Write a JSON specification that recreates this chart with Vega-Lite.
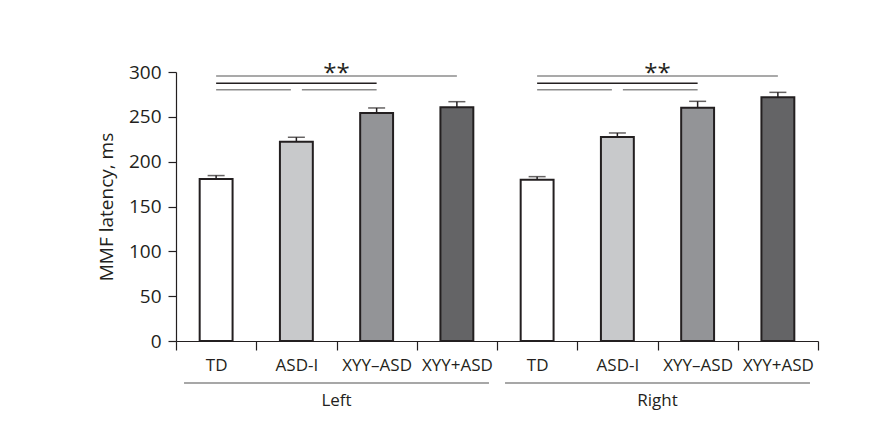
{
  "$schema": "https://vega.github.io/schema/vega-lite/v6.json",
  "width": 642,
  "height": 269,
  "autosize": "none",
  "padding": {"left": 176, "top": 72, "right": 75, "bottom": 107},
  "background": "white",
  "config": {
    "font": "Open Sans",
    "view": {"stroke": null},
    "axis": {"labelFont": "Open Sans", "titleFont": "Open Sans", "labelColor": "#231f20", "titleColor": "#231f20", "grid": false}
  },
  "datasets": {
    "bars": [
      {"side": "Left", "group": "TD", "key": "Left|TD", "mean": 180.7, "upper": 184.5},
      {"side": "Left", "group": "ASD-I", "key": "Left|ASD-I", "mean": 222.3, "upper": 227.2},
      {"side": "Left", "group": "XYY–ASD", "key": "Left|XYY–ASD", "mean": 254.3, "upper": 259.9},
      {"side": "Left", "group": "XYY+ASD", "key": "Left|XYY+ASD", "mean": 260.6, "upper": 266.9},
      {"side": "Right", "group": "TD", "key": "Right|TD", "mean": 179.7, "upper": 183.3},
      {"side": "Right", "group": "ASD-I", "key": "Right|ASD-I", "mean": 227.6, "upper": 232.0},
      {"side": "Right", "group": "XYY–ASD", "key": "Right|XYY–ASD", "mean": 260.2, "upper": 267.3},
      {"side": "Right", "group": "XYY+ASD", "key": "Right|XYY+ASD", "mean": 271.8, "upper": 277.3}
    ],
    "sig": [
      {"from": "Left|TD", "to": "Left|XYY+ASD", "level": 295.5, "tone": "gray", "gap": "none"},
      {"from": "Left|TD", "to": "Left|XYY–ASD", "level": 287.4, "tone": "black", "gap": "none"},
      {"from": "Left|TD", "to": "Left|ASD-I", "level": 280.3, "tone": "gray", "gap": "end"},
      {"from": "Left|ASD-I", "to": "Left|XYY–ASD", "level": 280.3, "tone": "gray", "gap": "start"},
      {"from": "Right|TD", "to": "Right|XYY+ASD", "level": 295.5, "tone": "gray", "gap": "none"},
      {"from": "Right|TD", "to": "Right|XYY–ASD", "level": 287.4, "tone": "black", "gap": "none"},
      {"from": "Right|TD", "to": "Right|ASD-I", "level": 280.3, "tone": "gray", "gap": "end"},
      {"from": "Right|ASD-I", "to": "Right|XYY–ASD", "level": 280.3, "tone": "gray", "gap": "start"}
    ],
    "stars": [{"at": "Left|ASD-I", "label": "**"}, {"at": "Right|ASD-I", "label": "**"}],
    "groups": [{"side": "Left"}, {"side": "Right"}]
  },
  "layer": [
    {
      "layer": [
        {
          "data": {"name": "bars"},
          "mark": {"type": "bar", "width": {"band": 0.41}, "stroke": "#231f20", "strokeWidth": 2},
          "encoding": {
            "x": {
              "field": "key", "type": "nominal", "title": null, "sort": null,
              "scale": {"domain": ["Left|TD", "Left|ASD-I", "Left|XYY–ASD", "Left|XYY+ASD", "Right|TD", "Right|ASD-I", "Right|XYY–ASD", "Right|XYY+ASD"], "paddingInner": 0, "paddingOuter": 0},
              "axis": {"tickBand": "extent", "labelExpr": "split(datum.label, '|')[1]", "labelAngle": 0, "labelFontSize": 17, "labelPadding": 7, "tickSize": 9, "tickColor": "#231f20", "domainColor": "#231f20", "tickWidth": 1.2, "domainWidth": 1.2}
            },
            "y": {
              "field": "mean", "type": "quantitative", "title": "MMF latency, ms",
              "scale": {"domain": [0, 300], "nice": false},
              "axis": {"title": "MMF latency, ms", "values": [0, 50, 100, 150, 200, 250, 300], "tickSize": 8, "labelFontSize": 19, "labelPadding": 7, "titleFontSize": 19, "titleFontWeight": "normal", "titlePadding": 12, "tickColor": "#231f20", "domainColor": "#231f20", "tickWidth": 1.2, "domainWidth": 1.2}
            },
            "fill": {
              "field": "group", "type": "nominal",
              "scale": {"domain": ["TD", "ASD-I", "XYY–ASD", "XYY+ASD"], "range": ["#ffffff", "#c8c9cb", "#939497", "#646466"]},
              "legend": null
            }
          }
        },
        {
          "data": {"name": "bars"},
          "mark": {"type": "rule", "color": "#231f20", "strokeWidth": 1.5},
          "encoding": {
            "x": {"field": "key", "type": "nominal", "title": null},
            "y": {"field": "mean", "type": "quantitative", "title": "MMF latency, ms"},
            "y2": {"field": "upper", "title": "MMF latency, ms"}
          }
        },
        {
          "data": {"name": "bars"},
          "mark": {"type": "tick", "orient": "horizontal", "size": 17, "thickness": 1.5, "color": "#231f20"},
          "encoding": {
            "x": {"field": "key", "type": "nominal", "title": null},
            "y": {"field": "upper", "type": "quantitative", "title": "MMF latency, ms"}
          }
        },
        {
          "data": {"name": "sig"},
          "transform": [{"filter": "datum.gap === 'none'"}],
          "mark": {"type": "rule", "strokeWidth": 1.5},
          "encoding": {
            "x": {"field": "from", "type": "nominal", "title": null},
            "x2": {"field": "to"},
            "y": {"field": "level", "type": "quantitative", "title": "MMF latency, ms"},
            "stroke": {"field": "tone", "type": "nominal", "scale": {"domain": ["gray", "black"], "range": ["#8c8c8c", "#231f20"]}, "legend": null}
          }
        },
        {
          "data": {"name": "sig"},
          "transform": [{"filter": "datum.gap === 'end'"}],
          "mark": {"type": "rule", "strokeWidth": 1.5, "x2Offset": -5.5},
          "encoding": {
            "x": {"field": "from", "type": "nominal", "title": null},
            "x2": {"field": "to"},
            "y": {"field": "level", "type": "quantitative", "title": "MMF latency, ms"},
            "stroke": {"field": "tone", "type": "nominal", "legend": null}
          }
        },
        {
          "data": {"name": "sig"},
          "transform": [{"filter": "datum.gap === 'start'"}],
          "mark": {"type": "rule", "strokeWidth": 1.5, "xOffset": 5.5},
          "encoding": {
            "x": {"field": "from", "type": "nominal", "title": null},
            "x2": {"field": "to"},
            "y": {"field": "level", "type": "quantitative", "title": "MMF latency, ms"},
            "stroke": {"field": "tone", "type": "nominal", "legend": null}
          }
        },
        {
          "data": {"name": "stars"},
          "mark": {"type": "text", "fontSize": 24, "baseline": "alphabetic", "align": "center", "color": "#231f20"},
          "encoding": {
            "x": {"field": "at", "type": "nominal", "bandPosition": 1, "title": null},
            "y": {"datum": 290, "title": "MMF latency, ms"},
            "text": {"field": "label"}
          }
        }
      ]
    },
    {
      "data": {"name": "groups"},
      "layer": [
        {
          "mark": {"type": "bar", "color": "#8a8a8a"},
          "encoding": {
            "x": {"field": "side", "type": "nominal", "sort": null, "title": null, "scale": {"domain": ["Left", "Right"], "paddingInner": 0.05, "paddingOuter": 0.025}, "axis": null},
            "y": {"datum": -46, "title": "MMF latency, ms"},
            "y2": {"datum": -47.7}
          }
        },
        {
          "mark": {"type": "text", "fontSize": 17, "baseline": "alphabetic", "align": "center", "color": "#231f20"},
          "encoding": {
            "x": {"field": "side", "type": "nominal", "title": null, "axis": null},
            "y": {"datum": -73, "title": "MMF latency, ms"},
            "text": {"field": "side"}
          }
        }
      ]
    }
  ],
  "resolve": {"scale": {"x": "independent"}}
}
